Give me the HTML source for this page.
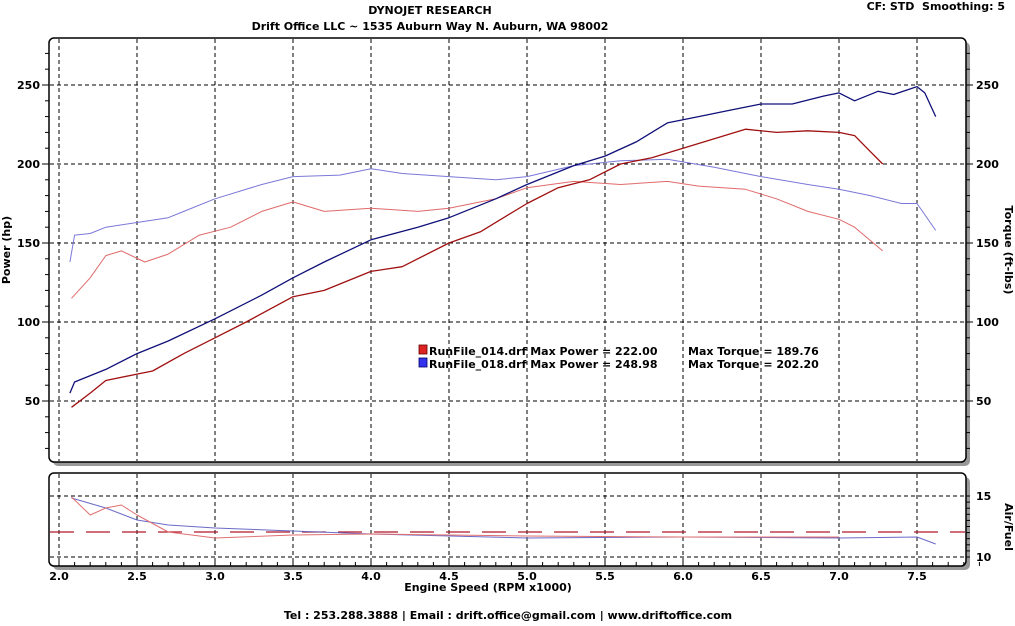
<!DOCTYPE html>
<html><head><meta charset="utf-8"><style>
body{margin:0;background:#fff;width:1015px;height:621px;overflow:hidden}
svg text{font-family:"DejaVu Sans","Liberation Sans",sans-serif;font-weight:bold;fill:#000;white-space:pre}
</style></head><body>
<svg id="s" width="1015" height="621" viewBox="0 0 1015 621" xmlns="http://www.w3.org/2000/svg">
<text x="430" y="14" font-size="11" text-anchor="middle">DYNOJET RESEARCH</text>
<text x="430" y="30" font-size="11" text-anchor="middle">Drift Office LLC ~ 1535 Auburn Way N. Auburn, WA 98002</text>
<text x="1005" y="10" font-size="11" text-anchor="end">CF: STD&#160;&#160;Smoothing: 5</text>
<text x="508" y="619" font-size="11" text-anchor="middle">Tel : 253.288.3888 | Email : drift.office@gmail.com | www.driftoffice.com</text>
<rect x="53" y="42" width="917" height="424" rx="5" fill="#999"/>
<rect x="49" y="38" width="917" height="424" rx="5" fill="#fff" stroke="#000" stroke-width="1.5"/>
<rect x="53" y="477" width="917" height="93" rx="5" fill="#999"/>
<rect x="49" y="473" width="917" height="93" rx="5" fill="#fff" stroke="#000" stroke-width="1.5"/>
<g id="g"></g>
<text x="10" y="250" font-size="11" text-anchor="middle" transform="rotate(-90 10 250)">Power (hp)</text>
<text x="1005" y="250" font-size="11" text-anchor="middle" transform="rotate(90 1005 250)">Torque (ft-lbs)</text>
<text x="1005" y="527" font-size="11" text-anchor="middle" transform="rotate(90 1005 527)">Air/Fuel</text>
<text x="488" y="591" font-size="11" text-anchor="middle">Engine Speed (RPM x1000)</text>
<rect x="419" y="345" width="8" height="9" fill="#d22" stroke="#600" stroke-width="0.8"/>
<rect x="419" y="358" width="8" height="9" fill="#33e" stroke="#006" stroke-width="0.8"/>
<text x="429" y="355" font-size="11">RunFile_014.drf Max Power = 222.00</text>
<text x="688" y="355" font-size="11">Max Torque = 189.76</text>
<text x="429" y="368" font-size="11">RunFile_018.drf Max Power = 248.98</text>
<text x="688" y="368" font-size="11">Max Torque = 202.20</text>
</svg>
<script>
var g=document.getElementById('g'),h='';
function X(r){return 59+(r-2)*156}
function Y(v){return 164-(v-200)*1.58}
function L(x1,y1,x2,y2,st){h+='<line x1="'+x1+'" y1="'+y1+'" x2="'+x2+'" y2="'+y2+'" stroke="#000" stroke-width="1" '+(st||'')+'/>';}
var d='stroke-dasharray="4,3"';
for(var r=2;r<=7.51;r+=0.5){var x=X(r);L(x,39,x,461,d);L(x,474,x,565,d);
 h+='<text x="'+x+'" y="580" font-size="11" text-anchor="middle">'+r.toFixed(1)+'</text>';}
for(var v=50;v<=250;v+=50){var y=Y(v);L(50,y,965,y,d);
 h+='<text x="40" y="'+(y+4)+'" font-size="11" text-anchor="end">'+v+'</text>';
 h+='<text x="976" y="'+(y+4)+'" font-size="11">'+v+'</text>';}
for(var v=20;v<=270;v+=10){var y=Y(v);if(y>461||y<40)continue;var w=(v%50==0)?7:4;L(49-w,y,49,y);L(966,y,966+w,y);}
function A(a){return 557-(a-10)*12.2}
L(50,A(15),965,A(15),d);L(50,A(10),965,A(10),d);
h+='<text x="976" y="'+(A(15)+4)+'" font-size="11">15</text><text x="976" y="'+(A(10)+4)+'" font-size="11">10</text>';
for(var a=10;a<=15.01;a+=0.5){var y=A(a);L(966,y,970,y);}
for(var r=2;r<=7.9;r+=0.1){var x=X(r);L(x,566,x,562);}
h+='<line x1="50" y1="532" x2="965" y2="532" stroke="#b01828" stroke-width="1.2" stroke-dasharray="24,12"/>';
function P(pts,c,w,f){var s='';for(var i=0;i<pts.length;i+=2)s+=(i?'L':'M')+X(pts[i]).toFixed(1)+','+f(pts[i+1]).toFixed(1);
 h+='<path d="'+s+'" fill="none" stroke="'+c+'" stroke-width="'+w+'" stroke-linejoin="round"/>';}
P([2.07,138,2.1,155,2.2,156,2.3,160,2.5,163,2.7,166,2.8,170,3.0,178,3.3,187,3.5,192,3.8,193,4.0,197,4.2,194,4.5,192,4.8,190,5.0,192,5.3,199,5.6,202,5.9,203,6.2,198,6.5,192,6.8,187,7.0,184,7.2,180,7.4,175,7.5,175,7.62,158],'#7a78d8',1,Y);
P([2.08,115,2.2,128,2.3,142,2.4,145,2.55,138,2.7,143,2.9,155,3.1,160,3.3,170,3.5,176,3.7,170,4.0,172,4.3,170,4.5,172,4.8,178,5.0,185,5.3,189,5.6,187,5.9,189,6.1,186,6.4,184,6.6,178,6.8,170,7.0,165,7.1,160,7.28,145],'#e06a6a',1,Y);
P([2.07,55,2.1,62,2.3,70,2.5,80,2.7,88,3.0,102,3.3,117,3.5,128,3.7,138,4.0,152,4.3,160,4.5,166,4.8,178,5.0,187,5.3,199,5.5,205,5.7,214,5.9,226,6.1,230,6.3,234,6.5,238,6.7,238,6.9,243,7.0,245,7.1,240,7.25,246,7.35,244,7.5,249,7.55,245,7.62,230],'#10107a',1.3,Y);
P([2.08,46,2.2,55,2.3,63,2.5,67,2.6,69,2.8,80,3.0,90,3.2,100,3.5,116,3.7,120,4.0,132,4.2,135,4.5,150,4.7,157,5.0,175,5.2,185,5.4,190,5.6,200,5.8,204,6.0,210,6.2,216,6.4,222,6.6,220,6.8,221,7.0,220,7.1,218,7.2,208,7.28,200],'#a01010',1.3,Y);
function Q(v){return v}
P([2.08,498,2.3,508,2.5,520,2.7,525,3.0,528,3.5,531,4.0,534,5,538,6,537,7,538,7.5,537,7.62,544],'#6a6ac8',1,Q);
P([2.08,497,2.2,515,2.3,508,2.4,505,2.5,515,2.7,532,3.0,538,3.5,535,4.0,534,5,536,6,537,7,537],'#e07070',1,Q);
g.innerHTML=h;
</script>
</body></html>
